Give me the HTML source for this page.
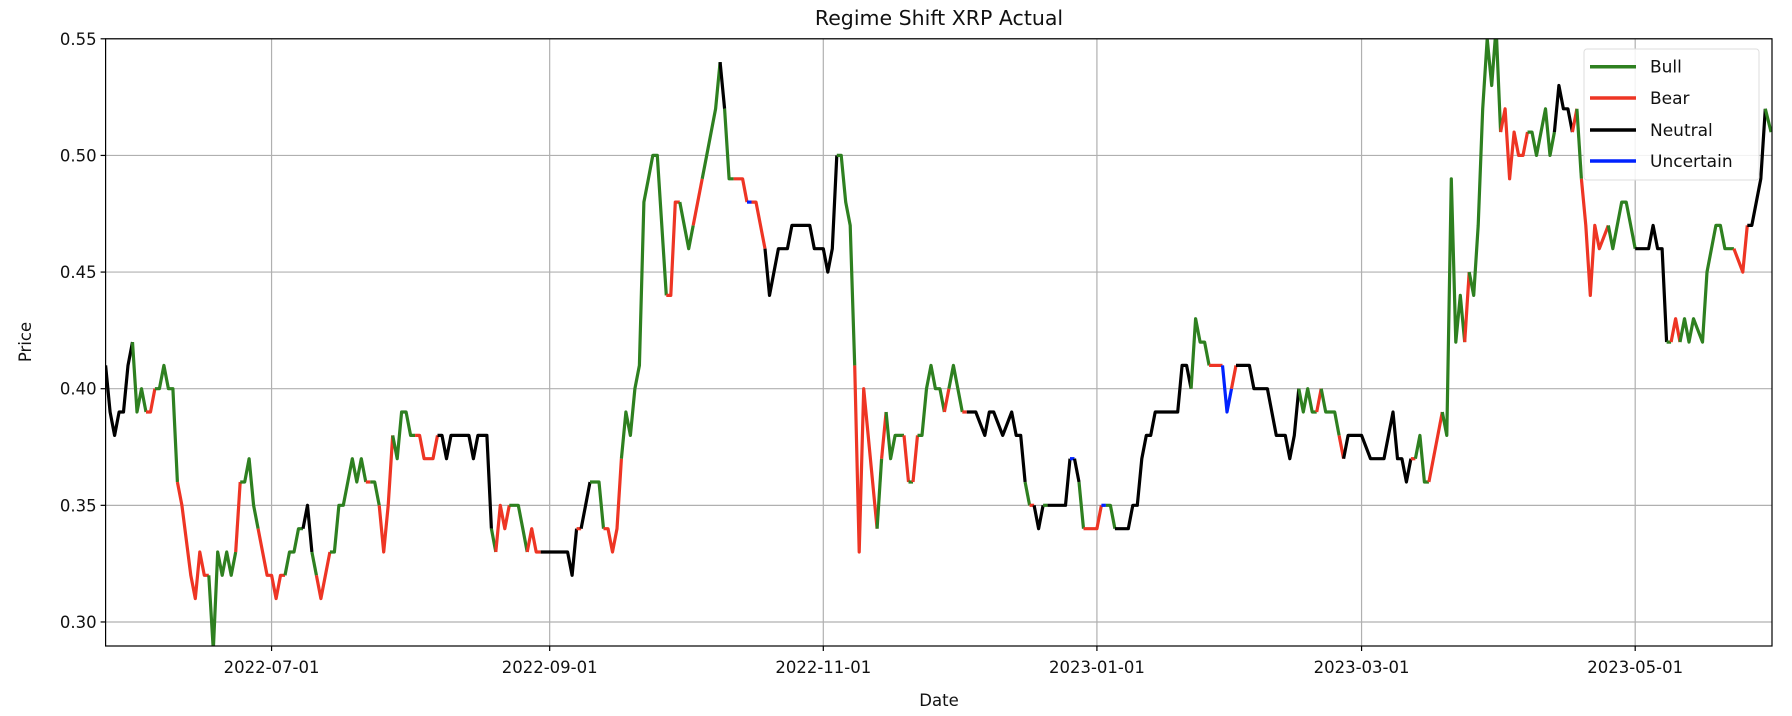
<!DOCTYPE html>
<html><head><meta charset="utf-8"><style>
html,body{margin:0;padding:0;background:#fff;}
svg{display:block;font-family:"DejaVu Sans","Liberation Sans",sans-serif;}
</style></head><body>
<svg id="chart" width="1792" height="716" viewBox="0 0 1792 716" xmlns="http://www.w3.org/2000/svg">
<rect width="1792" height="716" fill="#fff"/>
<text x="939" y="25" text-anchor="middle" font-size="20.5" fill="#111">Regime Shift XRP Actual</text>
<g id="grid"></g>
<defs><clipPath id="pc"><rect x="105.6" y="38.8" width="1666.4" height="607.2"/></clipPath></defs>
<g id="series" clip-path="url(#pc)"></g>
<rect x="105.6" y="38.8" width="1666.4" height="607.2" fill="none" stroke="#000" stroke-width="1.2"/>
<g id="axes"></g>
<text x="939" y="706" text-anchor="middle" font-size="16.5" fill="#111">Date</text>
<text x="0" y="0" transform="translate(31,342) rotate(-90)" text-anchor="middle" font-size="16.5" fill="#111">Price</text>
<g>
<rect x="1584" y="49" width="175" height="131" rx="3" fill="#fff" fill-opacity="0.85" stroke="#ddd"/>
<g><line x1="1590" y1="66.7" x2="1636" y2="66.7" stroke="#2e8020" stroke-width="3.5"/><text x="1650" y="72.5" font-size="17" fill="#111">Bull</text></g>
<g><line x1="1590" y1="98" x2="1636" y2="98" stroke="#ee3524" stroke-width="3.5"/><text x="1650" y="104" font-size="17" fill="#111">Bear</text></g>
<g><line x1="1590" y1="130" x2="1636" y2="130" stroke="#000" stroke-width="3.5"/><text x="1650" y="136" font-size="17" fill="#111">Neutral</text></g>
<g><line x1="1590" y1="161" x2="1636" y2="161" stroke="#0022ff" stroke-width="3.5"/><text x="1650" y="167" font-size="17" fill="#111">Uncertain</text></g>
</g>
</svg>
<script>
// day offsets from 2022-05-25
const days = [
0,1,2,3,4,5,6,7,8,9,
10,11,12,13,14,15,16,17,19,20,
21,22,23,24,25,26,27,28,29,30,
31,32,33,34,35,36,37,38,39,40,
41,42,43,44,45,46,47,48,49,50,
51,52,53,54,55,56,57,58,59,60,
61,62,63,64,65,66,67,68,69,70,
71,72,73,74,75,76,77,78,79,80,
81,82,83,85,86,87,88,89,90,91,
92,93,94,95,96,97,98,103,104,105,
106,107,108,110,111,112,113,114,115,116,
117,118,119,120,121,122,123,125,126,127,
128,130,131,133,134,136,137,138,139,140,
142,143,144,145,147,148,150,152,153,157,
158,160,161,162,163,164,165,166,167,168,
169,172,173,174,175,176,178,179,180,181,
182,183,184,185,186,187,188,189,191,192,
194,196,197,198,200,202,203,204,205,206,
207,208,209,210,212,214,215,216,217,218,
219,221,222,223,224,225,228,229,230,231,
232,233,234,239,240,241,242,243,244,245,
246,249,250,251,252,253,255,256,259,261,
263,264,265,266,267,268,269,270,271,272,
274,275,276,277,280,282,285,287,288,289,
290,291,292,293,294,295,298,299,300,301,
302,303,304,305,306,307,308,309,310,311,
312,313,314,315,316,317,318,319,321,322,
323,324,325,326,327,328,329,330,331,332,
333,335,336,338,339,341,344,345,346,347,
348,349,350,351,352,353,354,356,357,359,
360,361,363,365,366,367,369,370,371.3];
const prices = [
.41,.39,.38,.39,.39,.41,.42,.39,.40,.39,
.39,.40,.40,.41,.40,.40,.36,.35,.32,.31,
.33,.32,.32,.288,.33,.32,.33,.32,.33,.36,
.36,.37,.35,.34,.33,.32,.32,.31,.32,.32,
.33,.33,.34,.34,.35,.33,.32,.31,.32,.33,
.33,.35,.35,.36,.37,.36,.37,.36,.36,.36,
.35,.33,.35,.38,.37,.39,.39,.38,.38,.38,
.37,.37,.37,.38,.38,.37,.38,.38,.38,.38,
.38,.37,.38,.38,.34,.33,.35,.34,.35,.35,
.35,.34,.33,.34,.33,.33,.33,.33,.32,.34,
.34,.35,.36,.36,.34,.34,.33,.34,.37,.39,
.38,.40,.41,.48,.49,.50,.50,.44,.44,.48,
.48,.46,.47,.49,.50,.52,.54,.52,.49,.49,
.49,.48,.48,.48,.46,.44,.46,.46,.47,.47,
.46,.46,.45,.46,.50,.50,.48,.47,.41,.33,
.40,.34,.37,.39,.37,.38,.38,.36,.36,.38,
.38,.40,.41,.40,.40,.39,.40,.41,.39,.39,
.39,.38,.39,.39,.38,.39,.38,.38,.36,.35,
.35,.34,.35,.35,.35,.35,.37,.37,.36,.34,
.34,.34,.35,.35,.35,.34,.34,.35,.35,.37,
.38,.38,.39,.39,.41,.41,.40,.43,.42,.42,
.41,.41,.39,.40,.41,.41,.41,.40,.40,.38,
.38,.37,.38,.40,.39,.40,.39,.39,.40,.39,
.39,.38,.37,.38,.38,.37,.37,.39,.37,.37,
.36,.37,.37,.38,.36,.36,.39,.38,.49,.42,
.44,.42,.45,.44,.47,.52,.55,.53,.555,.51,
.52,.49,.51,.50,.50,.51,.51,.50,.52,.50,
.51,.53,.52,.52,.51,.52,.49,.47,.44,.47,
.46,.47,.46,.48,.48,.46,.46,.47,.46,.46,
.42,.42,.43,.42,.43,.42,.43,.42,.45,.47,
.47,.46,.46,.45,.47,.47,.49,.52,.51];
const regimes = [
"N","N","N","N","N","N","N","G","G","G",
"R","R","G","G","G","G","G","R","R","R",
"R","R","R","G","G","G","G","G","G","R",
"G","G","G","G","R","R","R","R","R","R",
"G","G","G","G","N","N","G","R","R","R",
"G","G","G","G","G","G","G","G","R","G",
"G","R","R","R","G","G","G","G","G","R",
"R","R","R","R","N","N","N","N","N","N",
"N","N","N","N","N","G","R","R","R","G",
"G","G","G","R","R","R","N","N","N","N",
"R","N","N","G","G","R","R","R","R","G",
"G","G","G","G","G","G","G","G","R","R",
"R","G","G","R","G","G","G","N","G","G",
"R","R","U","R","R","N","N","N","N","N",
"N","N","N","N","N","G","G","G","G","R",
"R","R","G","R","G","G","G","R","G","R",
"G","G","G","G","G","G","R","G","G","R",
"N","N","N","N","N","N","N","N","N","G",
"R","N","N","G","N","N","N","U","N","G",
"R","R","R","U","G","G","N","N","N","N",
"N","N","N","N","N","N","N","G","G","G",
"G","R","U","U","R","N","N","N","N","N",
"N","N","N","N","G","G","G","G","R","G",
"G","G","R","N","N","N","N","N","N","N",
"N","N","R","G","G","G","R","G","G","G",
"G","G","R","G","G","G","G","G","G","G",
"R","R","R","R","R","R","G","G","G","G",
"G","N","N","N","N","R","G","R","R","R",
"R","R","G","G","G","G","N","N","N","N",
"N","G","R","R","G","G","G","G","G","G",
"G","G","G","R","R","N","N","N","G"];
const yTicks = [0.30,0.35,0.40,0.45,0.50,0.55];
const xTickLabels = ["2022-07-01","2022-09-01","2022-11-01","2023-01-01","2023-03-01","2023-05-01"];
const xTickDays = [37,99,160,221,280,341];
const regimeColors = {G:"#2e8020",R:"#ee3524",N:"#000000",U:"#0022ff"};

const L=105.6,R=1772,T=38.8,B=646;
const xMin=0,xMax=371.5,yMin=0.2897,yMax=0.55;
const xs=d=>L+(d-xMin)/(xMax-xMin)*(R-L);
const ys=v=>B-(v-yMin)/(yMax-yMin)*(B-T);
const NS="http://www.w3.org/2000/svg";
const grid=document.getElementById('grid'),axes=document.getElementById('axes'),series=document.getElementById('series');
function mk(tag,attrs,parent){const e=document.createElementNS(NS,tag);for(const k in attrs)e.setAttribute(k,attrs[k]);parent.appendChild(e);return e;}
yTicks.forEach(v=>{
  const y=ys(v);
  const g=mk('line',{x1:L,x2:R,y1:y,y2:y,stroke:'#b0b0b0','stroke-width':1.2},grid);
  
  
  const t=mk('line',{x1:L-5,x2:L,y1:y,y2:y,stroke:'#000','stroke-width':1.2},axes);
  
  
  const lb=mk('text',{x:L-9,y:y+6,'text-anchor':'end','font-size':16.5,fill:'#111'},axes);
  lb.textContent=v.toFixed(2);
  
  
});
xTickDays.forEach((d,i)=>{
  const x=xs(d);
  const g=mk('line',{x1:x,x2:x,y1:T,y2:B,stroke:'#b0b0b0','stroke-width':1.2},grid);
  
  
  const t=mk('line',{x1:x,x2:x,y1:B,y2:B+5,stroke:'#000','stroke-width':1.2},axes);
  
  
  const lb=mk('text',{x:x,y:B+27,'text-anchor':'middle','font-size':16.5,fill:'#111'},axes);
  lb.textContent=xTickLabels[i];
  
  
});
// group consecutive segments by regime of end point
let i=1;
while(i<days.length){
  const r=regimes[i]||'N';
  let pts=[[xs(days[i-1]),ys(prices[i-1])]];
  while(i<days.length&&(regimes[i]||'N')===r){pts.push([xs(days[i]),ys(prices[i])]);i++;}
  const pl=mk('polyline',{points:pts.map(p=>p[0].toFixed(1)+','+p[1].toFixed(1)).join(' '),fill:'none',stroke:regimeColors[r],'stroke-width':3.2,'stroke-linejoin':'round'},series);
  
  
}
</script>
</body></html>
